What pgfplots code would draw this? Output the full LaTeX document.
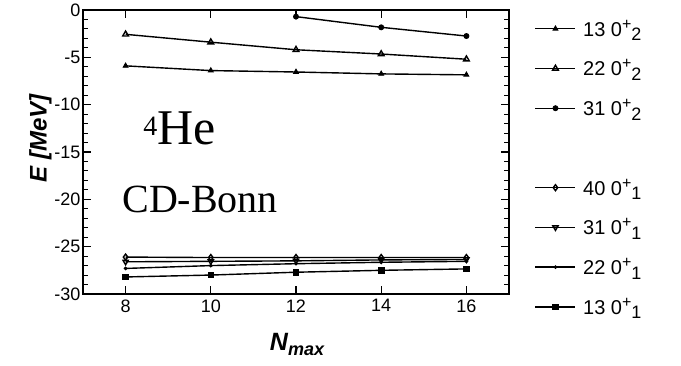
\documentclass[border=0pt]{standalone}
\usepackage{pgfplots}
\pgfplotsset{compat=1.18}
\usepackage{fontspec}
\setmainfont{Liberation Sans}
\newfontfamily\serifl{Liberation Serif}
\newcommand\st[1]{0\raisebox{7pt}{\fontsize{16}{16}\selectfont +}\raisebox{-4.5pt}{\fontsize{18}{18}\selectfont #1}}
\begin{document}
\begin{tikzpicture}[x=1pt,y=1pt]
\useasboundingbox (-83,-72) rectangle (598,294);
\begin{axis}[
  at={(0,0)}, anchor=south west,
  scale only axis, width=426pt, height=284pt,
  xmin=7, xmax=17, ymin=-30, ymax=0,
  xtick={8,10,12,14,16}, ytick={-30,-25,-20,-15,-10,-5,0},
  minor y tick num=4,
  tick align=inside,
  major tick length=8pt, minor tick length=5pt,
  every tick/.style={black, line width=1.1pt},
  axis line style={line width=1.6pt},
  /pgf/number format/assume math mode=true,
  yticklabel style={font=\fontsize{18}{18}\selectfont, xshift=1pt},
  xticklabel style={font=\fontsize{18}{18}\selectfont, yshift=-2pt},
  xlabel={\fontsize{25}{25}\selectfont\bfseries\itshape N\raisebox{-5pt}{\fontsize{18}{18}\selectfont max}},
  ylabel={\fontsize{24}{24}\selectfont\bfseries\itshape E [MeV]},
  xlabel style={yshift=-14pt, xshift=1pt},
  ylabel style={yshift=-4pt, xshift=14pt},
  legend cell align=left,
  legend style={at={(1.06,0.98)}, anchor=north west, draw=none, fill=none,
    font=\fontsize{20}{20}\selectfont, row sep=18pt, column sep=5pt, inner xsep=0pt},
  legend image code/.code={\draw[mark repeat=2,mark phase=2,#1] plot coordinates {(0pt,0pt) (20pt,0pt) (40pt,0pt)};},
  every axis plot/.append style={black, line width=1.4pt, mark options={solid, line width=0.9pt}},
]
\addplot[mark=triangle*, mark size=2.8pt] coordinates {(8,-5.9) (10,-6.4) (12,-6.55) (14,-6.75) (16,-6.85)};
\addlegendentry{13 \st{2}}
\addplot[mark=triangle, mark size=3.3pt, mark options={fill=white}] coordinates {(8,-2.57) (10,-3.4) (12,-4.2) (14,-4.65) (16,-5.2)};
\addlegendentry{22 \st{2}}
\addplot[mark=*, mark size=2.5pt] coordinates {(12,-0.7) (14,-1.83) (16,-2.75)};
\addlegendentry{31 \st{2}}
\addlegendimage{empty legend}
\addlegendentry{\phantom{13 \st{2}}}
\addplot[mark=diamond, mark size=3pt, mark options={fill=white}] coordinates {(8,-26.1) (10,-26.15) (12,-26.15) (14,-26.15) (16,-26.15)};
\addlegendentry{40 \st{1}}
\addplot[mark=triangle, mark size=3pt, mark options={fill=white, rotate=180}] coordinates {(8,-26.6) (10,-26.55) (12,-26.5) (14,-26.4) (16,-26.35)};
\addlegendentry{31 \st{1}}
\addplot[mark=*, mark size=1.4pt] coordinates {(8,-27.3) (10,-27.0) (12,-26.8) (14,-26.65) (16,-26.55)};
\addlegendentry{22 \st{1}}
\addplot[mark=square*, mark size=2.8pt] coordinates {(8,-28.2) (10,-28.0) (12,-27.7) (14,-27.5) (16,-27.35)};
\addlegendentry{13 \st{1}}
\node[anchor=base west, inner sep=0pt] at (axis cs:8.41,-14.25) {\serifl\raisebox{9pt}{\fontsize{28}{28}\selectfont 4}\fontsize{50}{50}\selectfont He};
\node[anchor=base west, inner sep=0pt] at (axis cs:7.92,-21.4) {\serifl\fontsize{40}{40}\selectfont CD-Bonn};
\end{axis}
\end{tikzpicture}
\end{document}
